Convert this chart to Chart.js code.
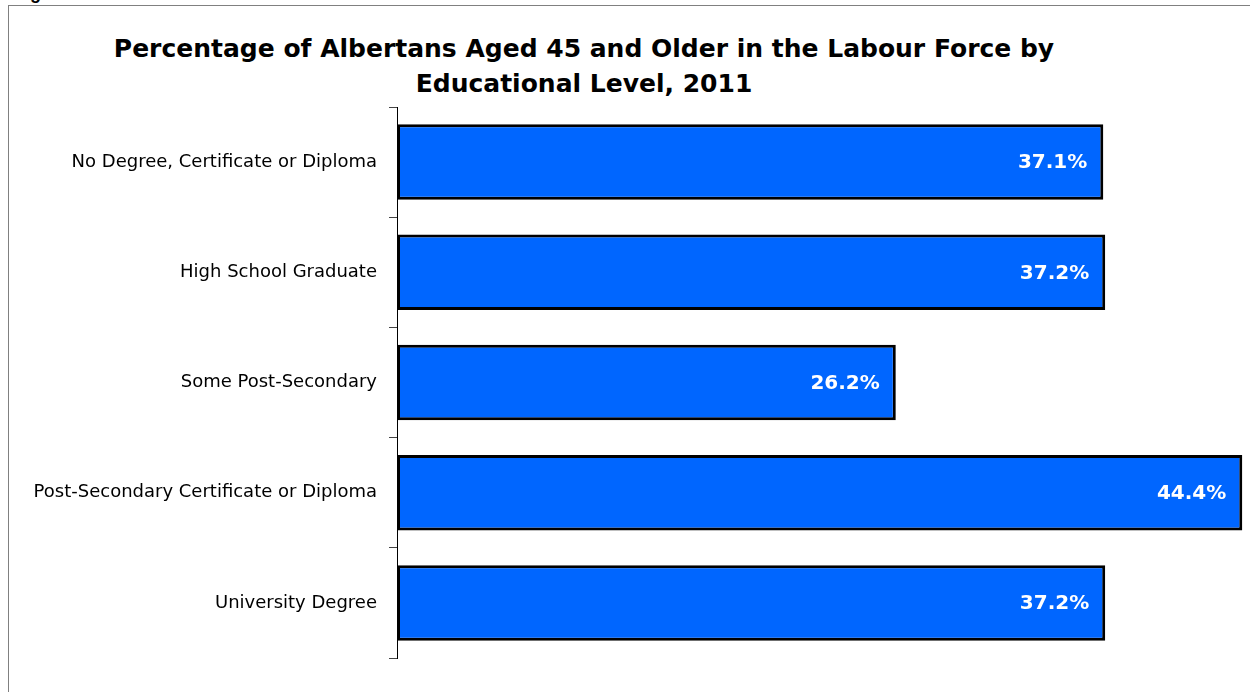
<!DOCTYPE html>
<html>
<head>
<meta charset="utf-8">
<script src="https://cdn.jsdelivr.net/npm/chart.js@4.4.1/dist/chart.umd.min.js"></script>
<style>
  body { margin: 0; background: #fff; overflow: hidden; }
  #wrap { position: relative; width: 1250px; height: 692px; overflow: hidden; }
  #fig { position: absolute; left: 14px; top: -17px; font: bold 18px "Liberation Sans", Arial, sans-serif; color: #000; }
  #frame { position: absolute; left: 8px; top: 5px; width: 1400px; height: 800px; border-left: 1px solid #808080; border-top: 1px solid #808080; }
  #title { position: absolute; left: 0; top: 31px; width: 1168px; text-align: center;
           font: bold 25px "DejaVu Sans", Verdana, sans-serif; line-height: 35px; color: #000; }
  canvas { position: absolute; left: 0; top: 0; }
</style>
</head>
<body>
<div id="wrap">
  <div id="fig">Figure 1</div>
  <div id="frame"></div>
  <div id="title">Percentage of Albertans Aged 45 and Older in the Labour Force by<br>Educational Level, 2011</div>
  <canvas id="myChart" width="1250" height="692"></canvas>
</div>
<script>
const levels = [
  "No Degree, Certificate or Diploma",
  "High School Graduate",
  "Some Post-Secondary",
  "Post-Secondary Certificate or Diploma",
  "University Degree",
];
const pctInLabourForce = [37.1, 37.2, 26.2, 44.4, 37.2];

// white value text inside the end of each bar
const barValues = {
  id: "barValues",
  afterDatasetsDraw(chart) {
    const ctx = chart.ctx;
    const meta = chart.getDatasetMeta(0);
    ctx.save();
    ctx.fillStyle = "#fff";
    ctx.font = "bold 20px 'DejaVu Sans', Verdana, sans-serif";
    ctx.textAlign = "right";
    ctx.textBaseline = "middle";
    meta.data.forEach((bar, i) => {
      ctx.fillText(pctInLabourForce[i].toFixed(1) + "%", bar.x - 16, bar.y + 1);
    });
    ctx.restore();
  }
};

new Chart("myChart", {
  type: "bar",
  data: {
    labels: levels,
    datasets: [{
      data: pctInLabourForce,
      backgroundColor: "#0066ff",
      borderColor: "#000",
      borderWidth: 3,
      borderSkipped: false,
      categoryPercentage: 1,
      barPercentage: 0.685,
    }],
  },
  options: {
    indexAxis: "y",
    responsive: false,
    animation: false,
    devicePixelRatio: 1,
    layout: { padding: { top: 107, bottom: 34, left: 0, right: 2 } },
    plugins: {
      legend: { display: false },
      tooltip: { enabled: false },
      title: { display: false },
    },
    scales: {
      x: { display: false, min: 0, max: 44.7 },
      y: {
        afterFit(scale) { scale.width = 397; },
        border: { display: true, color: "#000", width: 1 },
        grid: { drawOnChartArea: false, tickLength: 8, color: "#444", offset: true },
        ticks: {
          color: "#000",
          padding: 12,
          font: { family: "'DejaVu Sans', Tahoma, sans-serif", size: 18 },
        },
      },
    },
  },
  plugins: [barValues],
});
</script>
</body>
</html>
